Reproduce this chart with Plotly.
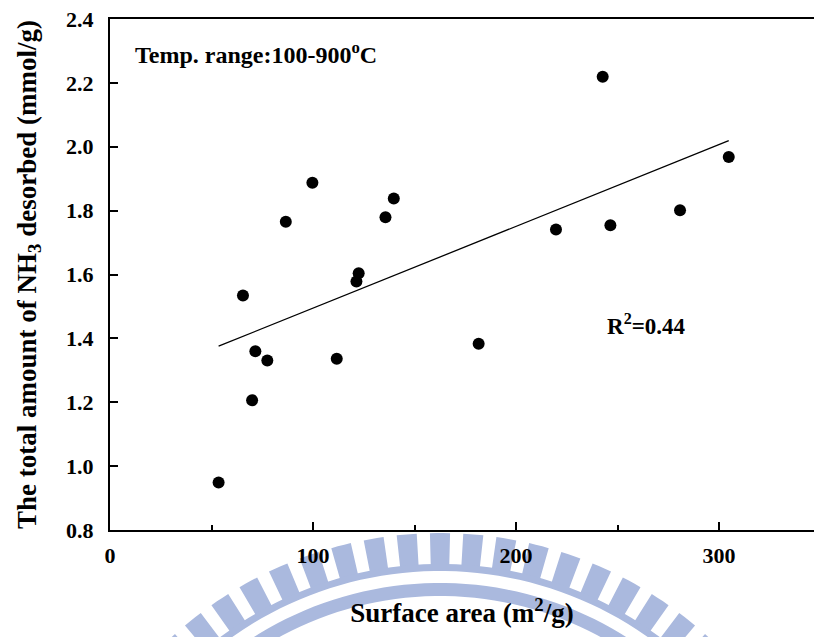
import numpy as np
import plotly.graph_objects as go

# Surface area (m2/g) vs. total NH3 desorbed (mmol/g), 100-900 C
surface_area = [53.5, 65.5, 70.0, 71.6, 77.5, 86.6, 99.7, 111.7, 121.4,
                122.5, 135.7, 139.8, 181.6, 219.7, 242.7, 246.5, 280.8, 304.8]
nh3_desorbed = [0.949, 1.534, 1.206, 1.360, 1.331, 1.765, 1.887, 1.336, 1.578,
                1.604, 1.779, 1.838, 1.383, 1.741, 2.219, 1.754, 1.801, 1.968]
x_tick_vals = [0, 100, 200, 300]
y_tick_vals = [0.8, 1.0, 1.2, 1.4, 1.6, 1.8, 2.0, 2.2, 2.4]
y_tick_text = ["0.8", "1.0", "1.2", "1.4", "1.6", "1.8", "2.0", "2.2", "2.4"]
temp_label = "Temp. range:100-900<sup>o</sup>C"
r2_label = "R<sup>2</sup>=0.44"

# Least-squares trend line over the data span
slope, intercept = np.polyfit(surface_area, nh3_desorbed, 1)
fit_x = np.array([min(surface_area), max(surface_area)])
fit_y = slope * fit_x + intercept

W, H = 814, 637
ML, MR, MT, MB = 110, 0, 19, 107
PW, PH = W - ML - MR, H - MT - MB
X_MAX = PW / 2.03

FONT = "Liberation Serif, Times New Roman, serif"


def paper(px, py):
    return (px - ML) / PW, (H - MB - py) / PH


def ring_path(cx, cy, r0, r1, a0, a1, n=24):
    pts = []
    for a in np.linspace(a0, a1, n):
        t = np.radians(a)
        pts.append(paper(cx + r1 * np.cos(t), cy - r1 * np.sin(t)))
    for a in np.linspace(a1, a0, n):
        t = np.radians(a)
        pts.append(paper(cx + r0 * np.cos(t), cy - r0 * np.sin(t)))
    return "M " + " L ".join(f"{x:.5f},{y:.5f}" for x, y in pts) + " Z"


# faint seal watermark under the x-axis title
seal_color = "rgb(170,185,222)"
cx, cy = 440, 931
shapes = []
for k in range(-28, 29):
    a = 90 + k * 4.8
    if -45 <= a <= 225:
        shapes.append(dict(type="path", xref="paper", yref="paper", layer="below",
                           path=ring_path(cx, cy, 366, 398, a - 1.45, a + 1.45, 4),
                           fillcolor=seal_color, line=dict(width=0)))
shapes.append(dict(type="path", xref="paper", yref="paper", layer="below",
                   path=ring_path(cx, cy, 360, 367, -45, 225, 160),
                   fillcolor=seal_color, line=dict(width=0)))
shapes.append(dict(type="path", xref="paper", yref="paper", layer="below",
                   path=ring_path(cx, cy, 335, 348, -45, 225, 160),
                   fillcolor=seal_color, line=dict(width=0)))

fig = go.Figure()
fig.add_trace(go.Scatter(x=fit_x, y=fit_y, mode="lines",
                         line=dict(color="black", width=1.3), hoverinfo="skip"))
fig.add_trace(go.Scatter(x=surface_area, y=nh3_desorbed, mode="markers",
                         marker=dict(color="black", size=12, line=dict(width=0))))

tx, ty = paper(133, 53)
rx, ry = paper(646, 324)
annotations = [
    dict(x=tx, y=ty, xref="paper", yref="paper", xanchor="left", yanchor="middle",
         text=temp_label, showarrow=False,
         font=dict(family=FONT, size=24, color="black", weight="bold")),
    dict(x=rx, y=ry, xref="paper", yref="paper", xanchor="center", yanchor="middle",
         text=r2_label, showarrow=False,
         font=dict(family=FONT, size=23, color="black", weight="bold")),
]

tick_font = dict(family=FONT, size=22, color="black", weight="bold")
title_font = dict(family=FONT, size=27, color="black", weight="bold")

fig.update_layout(
    width=W, height=H,
    margin=dict(l=ML, r=MR, t=MT, b=MB, pad=0),
    paper_bgcolor="white", plot_bgcolor="rgba(0,0,0,0)",
    showlegend=False,
    shapes=shapes,
    annotations=annotations,
    xaxis=dict(range=[0, X_MAX], tickvals=x_tick_vals, ticks="inside", ticklen=8,
               tickwidth=1.5, tickcolor="black", showline=True, linewidth=2,
               linecolor="black", mirror=True, showgrid=False, zeroline=False,
               tickfont=tick_font, ticklabelstandoff=5,
               minor=dict(dtick=50, tick0=0, ticks="inside", ticklen=5,
                          tickwidth=1.5, tickcolor="black", showgrid=False),
               title=dict(text="Surface area (m<sup>2</sup>/g)", font=title_font,
                          standoff=36)),
    yaxis=dict(range=[0.8, 2.4], tickvals=y_tick_vals, ticktext=y_tick_text,
               ticks="inside", ticklen=8, tickwidth=1.5, tickcolor="black",
               showline=True, linewidth=2, linecolor="black", showgrid=False,
               zeroline=False, tickfont=tick_font, ticklabelstandoff=10,
               title=dict(text="The total amount of NH<sub>3</sub> desorbed (mmol/g)",
                          font=title_font, standoff=22)),
)

fig.write_html("out.html")
